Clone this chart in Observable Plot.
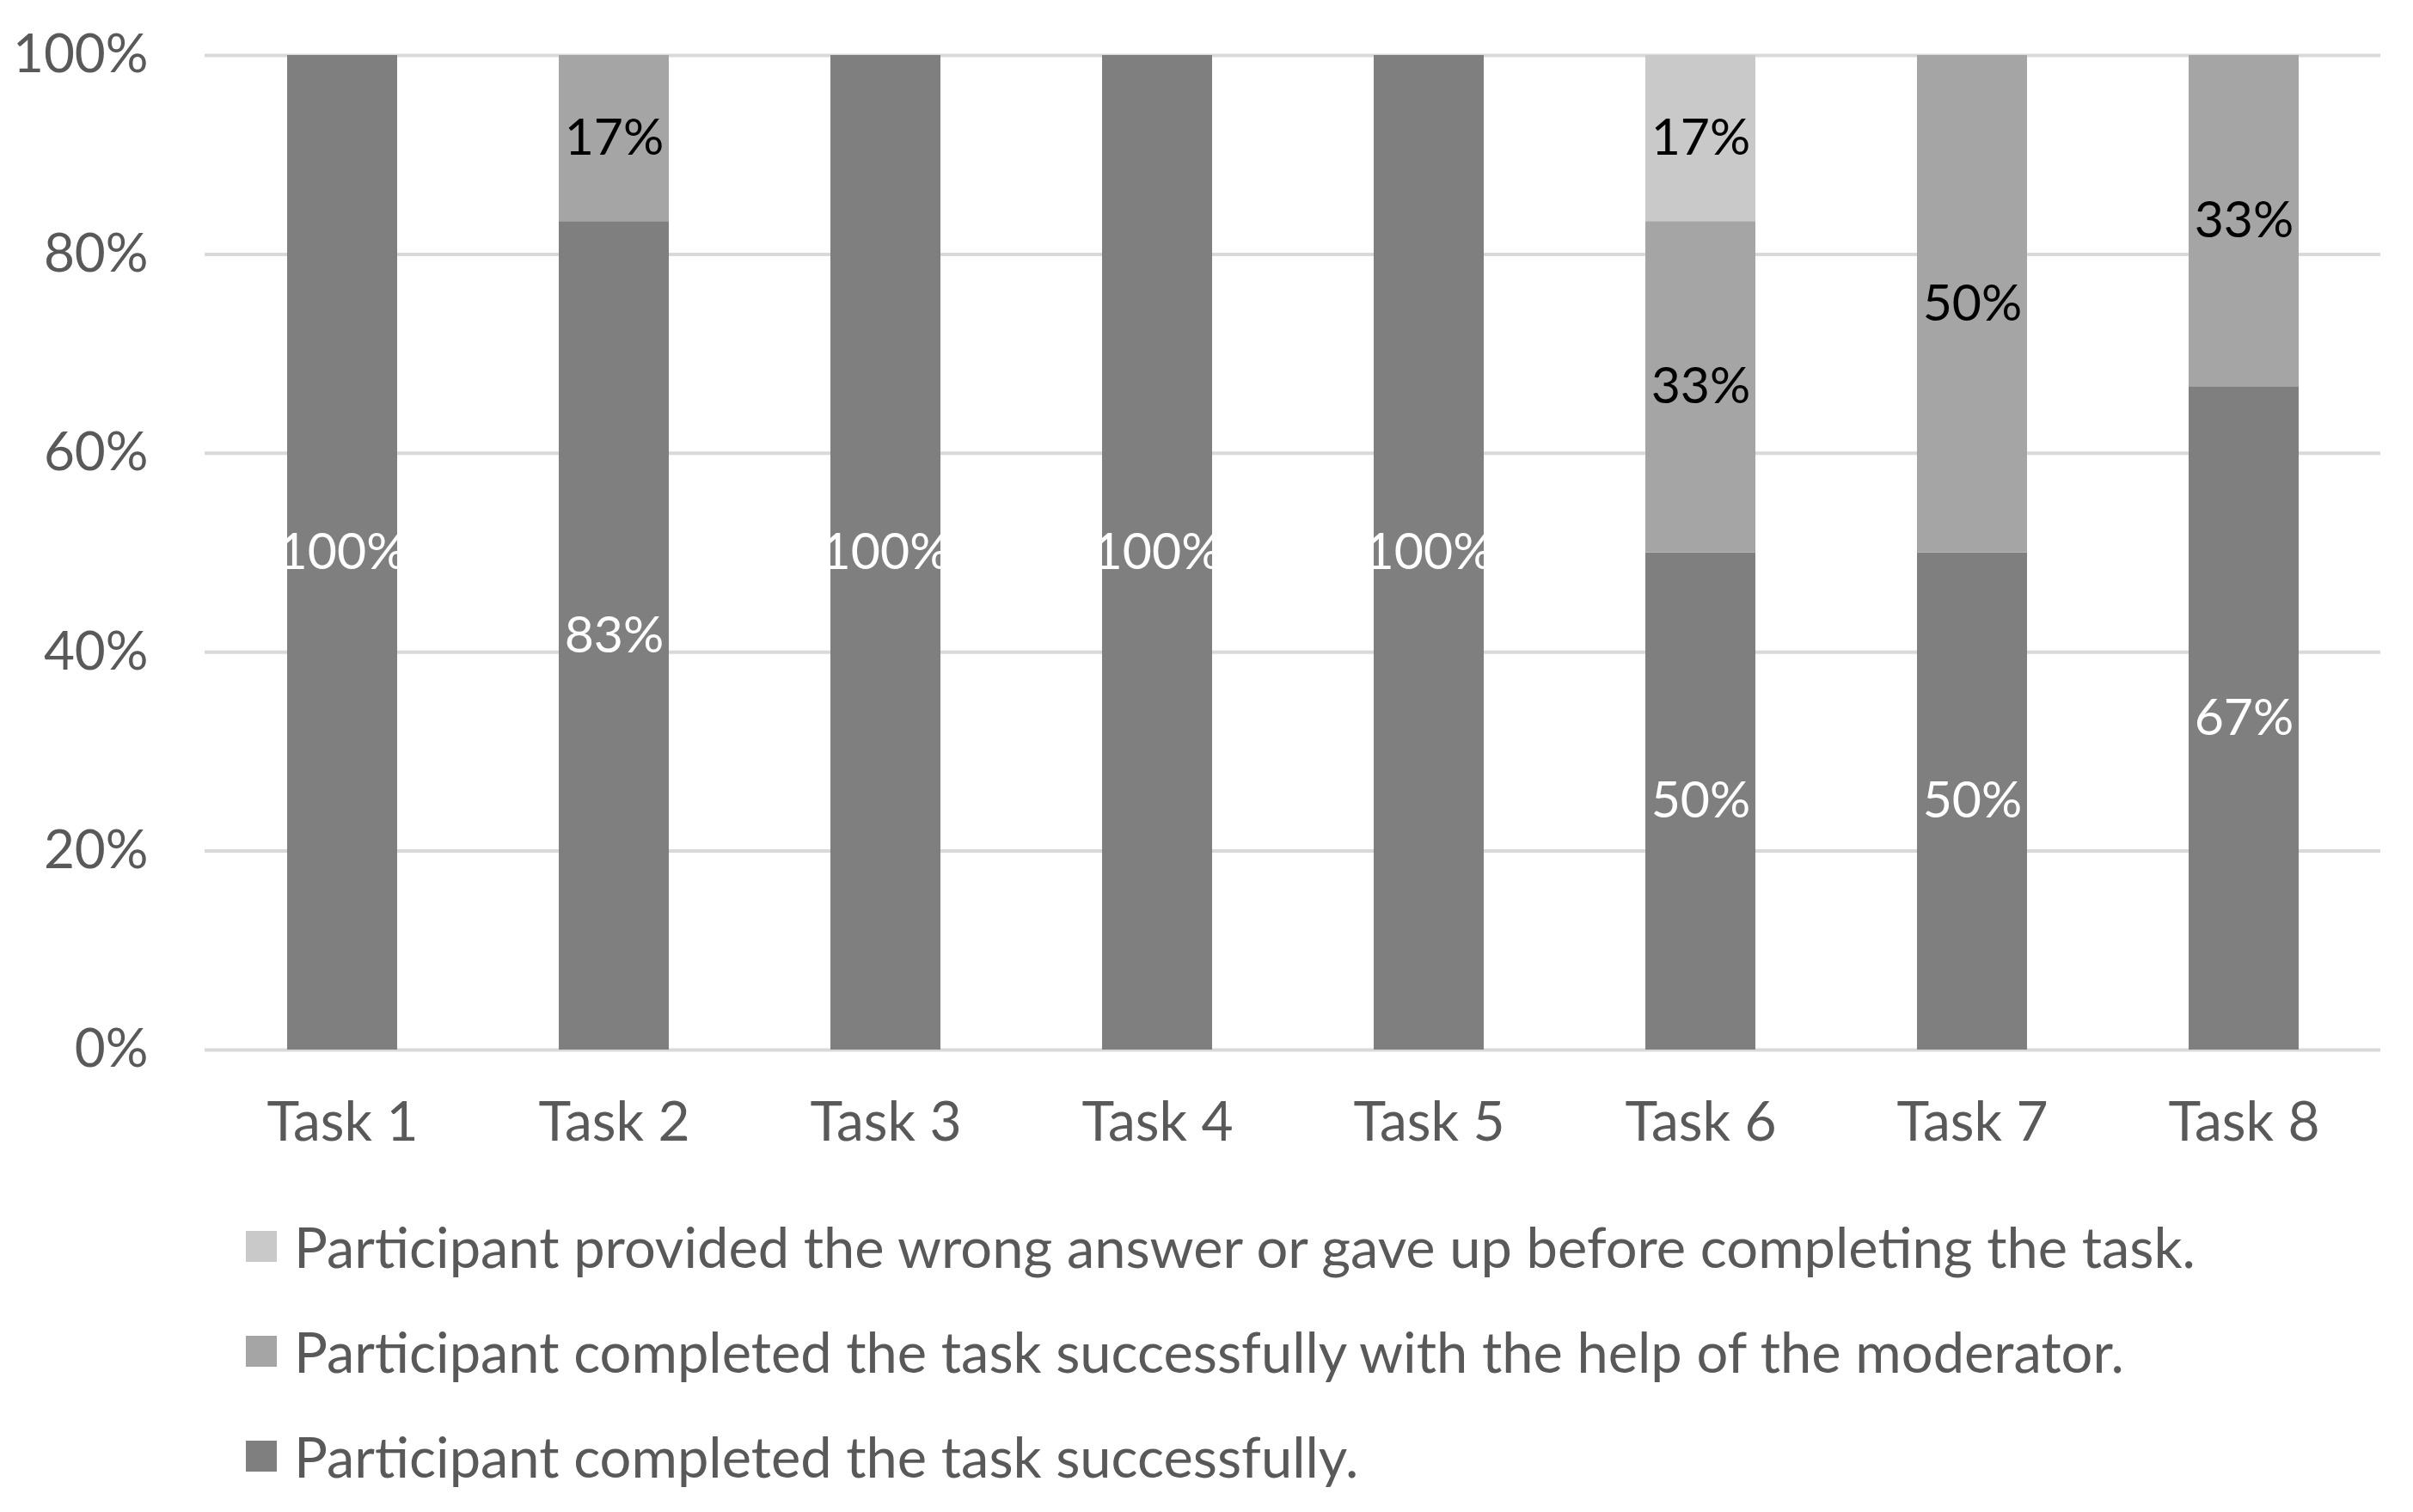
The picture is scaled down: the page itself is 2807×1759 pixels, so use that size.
<!DOCTYPE html>
<html>
<head>
<meta charset="utf-8">
<script src="https://cdn.jsdelivr.net/npm/d3@7"></script>
<script src="https://cdn.jsdelivr.net/npm/@observablehq/plot@0.6"></script>
<style>
  html, body { margin: 0; padding: 0; background: #fff; }
  #wrap { position: relative; width: 2807px; height: 1759px; overflow: hidden; font-family: Lato, "Open Sans", sans-serif; }
  #legend { position: absolute; left: 286px; top: 1380px; }
  .row { display: flex; align-items: center; height: 122px; position: absolute; left: 0; white-space: nowrap; }
  .sw { width: 36px; height: 36px; margin-right: 20px; }
  .lbl { font-size: 65px; color: #595959; }
</style>
</head>
<body>
<div id="wrap">
  <div id="chart"></div>
  <div id="legend"></div>
</div>
<script>
const tasks = ["Task 1", "Task 2", "Task 3", "Task 4", "Task 5", "Task 6", "Task 7", "Task 8"];
const successful = [100, 83.3, 100, 100, 100, 50, 50, 66.7];
const withHelp = [0, 16.7, 0, 0, 0, 33.3, 50, 33.3];
const wrongOrGaveUp = [0, 0, 0, 0, 0, 16.7, 0, 0];
const seriesNames = [
  "Participant completed the task successfully.",
  "Participant completed the task successfully with the help of the moderator.",
  "Participant provided the wrong answer or gave up before completing the task."
];
const seriesColors = ["#7f7f7f", "#a5a5a5", "#c9c9c9"];
const yTicks = [0, 20, 40, 60, 80, 100];

const seriesValues = [successful, withHelp, wrongOrGaveUp];
const data = [];
tasks.forEach((t, i) => {
  seriesNames.forEach((s, k) => {
    data.push({task: t, series: s, value: seriesValues[k][i]});
  });
});

const stackOpts = {x: "task", y: "value", z: "series", order: seriesNames};
const lightLabel = d => (d.value > 0 && d.series === seriesNames[0]) ? Math.round(d.value) + "%" : "";
const darkLabel = d => (d.value > 0 && d.series !== seriesNames[0]) ? Math.round(d.value) + "%" : "";

const chart = Plot.plot({
  width: 2807,
  height: 1380,
  marginTop: 64,
  marginBottom: 159,
  marginLeft: 238,
  marginRight: 38,
  style: {fontFamily: "Lato, 'Open Sans', sans-serif", background: "#fff"},
  x: {domain: tasks, paddingInner: 0.595, paddingOuter: 0.2975, label: null},
  y: {domain: [0, 100], label: null},
  color: {domain: seriesNames, range: seriesColors},
  marks: [
    Plot.ruleY(yTicks, {stroke: "#d9d9d9", strokeWidth: 4}),
    Plot.barY(data, Plot.stackY({...stackOpts, fill: "series"})),
    Plot.text(data, Plot.stackY({...stackOpts, text: lightLabel, fill: "#ffffff", fontSize: 59})),
    Plot.text(data, Plot.stackY({...stackOpts, text: darkLabel, fill: "#000000", fontSize: 59})),
    Plot.axisY({ticks: yTicks, tickFormat: d => d + "%", tickSize: 0, tickPadding: 66, fontSize: 62, fill: "#595959", label: null}),
    Plot.axisX({tickSize: 0, tickPadding: 60, fontSize: 64, fill: "#595959", label: null})
  ]
});
document.getElementById("chart").appendChild(chart);

// legend (top to bottom: wrong, help, success)
const legend = document.getElementById("legend");
[2, 1, 0].forEach((k, r) => {
  const row = document.createElement("div");
  row.className = "row";
  row.style.top = (r * 122 + 9) + "px";
  const sw = document.createElement("div");
  sw.className = "sw";
  sw.style.background = seriesColors[k];
  const lbl = document.createElement("span");
  lbl.className = "lbl";
  lbl.textContent = seriesNames[k];
  row.appendChild(sw);
  row.appendChild(lbl);
  legend.appendChild(row);
});
</script>
</body>
</html>
